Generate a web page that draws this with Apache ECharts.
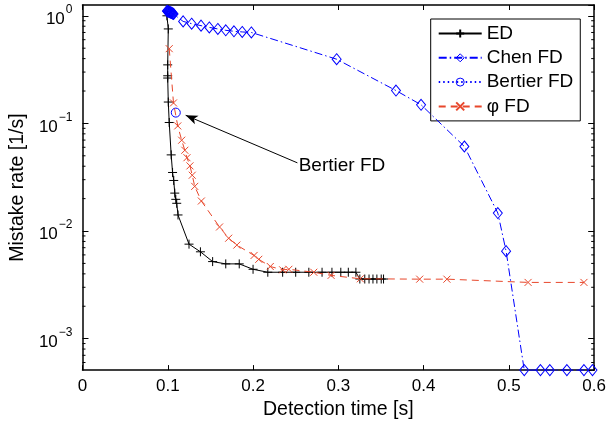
<!DOCTYPE html>
<html><head><meta charset="utf-8">
<script src="https://cdn.jsdelivr.net/npm/echarts@6/dist/echarts.min.js"></script>
<style>html,body{margin:0;padding:0;background:#fff}#c{width:609px;height:425px}</style>
</head><body><div id="c"></div>
<script>
// ---- data ----
const edTime = [0.0990, 0.1006, 0.0999, 0.0999, 0.0999, 0.1006, 0.1017, 0.1040, 0.1056, 0.1070, 0.1082, 0.1094, 0.1105, 0.1120, 0.1249, 0.1383, 0.1526, 0.1680, 0.1838, 0.2000, 0.2173, 0.2347, 0.2500, 0.2654, 0.2809, 0.2925, 0.3029, 0.3117, 0.3206, 0.3252, 0.3310, 0.3360, 0.3406, 0.3452, 0.3503, 0.3530];
const edRate = [1.0, 0.755, 0.35, 0.277, 0.264, 0.158, 0.102, 0.051, 0.035, 0.0295, 0.0225, 0.0197, 0.0181, 0.0141, 0.00755, 0.00641, 0.0052, 0.00495, 0.00495, 0.00441, 0.00414, 0.00414, 0.00414, 0.00414, 0.00414, 0.00414, 0.00414, 0.00414, 0.00414, 0.00358, 0.00358, 0.00358, 0.00358, 0.00358, 0.00358, 0.00358];

const chenTime = [0.0990, 0.0996, 0.1002, 0.1008, 0.1014, 0.1020, 0.1026, 0.1032, 0.1038, 0.1044, 0.1050, 0.1056, 0.1062, 0.1068, 0.1180, 0.1280, 0.1390, 0.1487, 0.1587, 0.1680, 0.1776, 0.1873, 0.1980, 0.2980, 0.3676, 0.3970, 0.4478, 0.4870, 0.4967, 0.5180, 0.5370, 0.5480, 0.5680, 0.5880, 0.5980];
const chenRate = [1.11, 1.105, 1.10, 1.095, 1.09, 1.085, 1.08, 1.075, 1.07, 1.065, 1.06, 1.05, 1.045, 1.04, 0.887, 0.845, 0.81, 0.78, 0.755, 0.733, 0.718, 0.708, 0.70, 0.395, 0.202, 0.149, 0.061, 0.0147, 0.0065, 0.00051, 0.00051, 0.00051, 0.00051, 0.00051, 0.00051];

const bertierTime = [0.1094];
const bertierRate = [0.126];

const phiTime = [0.1017, 0.1067, 0.1117, 0.1163, 0.1200, 0.1225, 0.1260, 0.1287, 0.1316, 0.1394, 0.1607, 0.1714, 0.1810, 0.2012, 0.2067, 0.2202, 0.2347, 0.2420, 0.2712, 0.2915, 0.3258, 0.3954, 0.4273, 0.5225, 0.5880];
const phiRate = [0.495, 0.155, 0.0948, 0.0698, 0.0563, 0.048, 0.0403, 0.033, 0.026, 0.019, 0.0109, 0.00857, 0.0074, 0.00593, 0.00546, 0.00468, 0.00436, 0.00441, 0.00414, 0.00387, 0.0036, 0.00357, 0.00357, 0.00333, 0.00333];

const seriesNames = ['ED', 'Chen FD', 'Bertier FD', '\u03C6 FD'];
const xTickLabels = ['0', '0.1', '0.2', '0.3', '0.4', '0.5', '0.6'];
const yTickExponents = ['0', '\u22121', '\u22122', '\u22123'];
const yMinorTicks = [6e-4, 7e-4, 8e-4, 9e-4, 2e-3, 3e-3, 4e-3, 5e-3, 6e-3, 7e-3, 8e-3, 9e-3, 2e-2, 3e-2, 4e-2, 5e-2, 6e-2, 7e-2, 8e-2, 9e-2, 0.2, 0.3, 0.4, 0.5, 0.6, 0.7, 0.8, 0.9];
const annotationText = 'Bertier FD';
const annotationTextAt = [0.2535, 0.0403];
const arrowFrom = [0.252, 0.043];
const arrowTo = [0.121, 0.119];

// ---- chart ----
const zip = (a, b) => a.map((v, i) => [v, b[i]]);
const FONT = '"Liberation Sans", Arial, Helvetica, sans-serif';
const PLUS = 'path://M0,5L10,5M5,0L5,10';
const CROSS = 'path://M0,0L10,10M0,10L10,0';
const BLUE = '#0000ff', RED = '#e8472b';
const YMIN = 5.1e-4, YMAX = 1.26;
const HOLLOW = 'rgba(255,255,255,0)';

const chart = echarts.init(document.getElementById('c'), null, {renderer: 'canvas'});

const axisLineStyle = {color: '#000', width: 1.5};
const option = {
  animation: false,
  backgroundColor: '#fff',
  textStyle: {fontFamily: FONT},
  grid: {left: 78.7, right: 11.3, top: 5, bottom: 50, containLabel: false},
  legend: {
    data: [
      {name: seriesNames[0]},
      {name: seriesNames[1], itemStyle: {color: HOLLOW, borderColor: BLUE, borderWidth: 1}},
      {name: seriesNames[2], itemStyle: {color: HOLLOW, borderColor: BLUE, borderWidth: 1}},
      {name: seriesNames[3]}
    ],
    orient: 'vertical',
    left: 430.7, top: 19,
    padding: [5, 7, 5, 7],
    itemWidth: 43, itemHeight: 10, itemGap: 5.3,
    backgroundColor: '#fff', borderColor: '#000', borderWidth: 1, borderRadius: 0,
    textStyle: {fontSize: 19, color: '#000', fontFamily: FONT},
    selectedMode: false
  },
  xAxis: [{
    type: 'value', min: 0, max: 0.6, interval: 0.1, position: 'bottom',
    axisLine: {onZero: false, lineStyle: axisLineStyle},
    axisTick: {inside: true, length: 5, lineStyle: {color: '#000'}},
    axisLabel: {color: '#000', fontSize: 17, margin: 8, fontFamily: FONT,
      formatter: v => xTickLabels[Math.round(v * 10)]},
    splitLine: {show: false},
    name: 'Detection time [s]', nameLocation: 'middle', nameGap: 26,
    nameTextStyle: {color: '#000', fontSize: 19.5, fontFamily: FONT}
  }, {
    type: 'value', min: 0, max: 0.6, interval: 0.1, position: 'top',
    axisLine: {onZero: false, lineStyle: axisLineStyle},
    axisTick: {inside: true, length: 5, lineStyle: {color: '#000'}},
    axisLabel: {show: false}, splitLine: {show: false}
  }],
  yAxis: [{
    type: 'log', logBase: 10, min: YMIN, max: YMAX, position: 'left',
    axisLine: {onZero: false, lineStyle: axisLineStyle},
    axisTick: {inside: true, length: 6, lineStyle: {color: '#000'}},
    axisLabel: {
      color: '#000', margin: 10, showMinLabel: false, showMaxLabel: false,
      formatter: v => {
        const e = Math.log10(v), r = Math.round(e);
        if (Math.abs(e - r) > 0.01 || r > 0 || r < -3) return '';
        return '{b|10}{s|' + yTickExponents[-r] + '}';
      },
      rich: {
        b: {fontSize: 17, fontFamily: FONT, color: '#000', lineHeight: 24, verticalAlign: 'bottom'},
        s: {fontSize: 12, fontFamily: FONT, color: '#000', lineHeight: 24, verticalAlign: 'top', padding: [0, 0, 0, 1]}
      }
    },
    splitLine: {show: false},
    name: 'Mistake rate [1/s]', nameLocation: 'middle', nameGap: 49,
    nameTextStyle: {color: '#000', fontSize: 19.5, fontFamily: FONT}
  }, {
    type: 'log', logBase: 10, min: YMIN, max: YMAX, position: 'right',
    axisLine: {onZero: false, lineStyle: axisLineStyle},
    axisTick: {inside: true, length: 6, lineStyle: {color: '#000'}},
    axisLabel: {show: false}, splitLine: {show: false}
  }],
  series: [
    {
      name: seriesNames[0], type: 'line', data: zip(edTime, edRate),
      symbol: PLUS, symbolSize: 9, showAllSymbol: true, clip: false,
      lineStyle: {color: '#000', width: 1},
      itemStyle: {color: '#000', borderColor: '#000', borderWidth: 1},
      z: 3
    },
    {
      name: seriesNames[1], type: 'line', data: zip(chenTime, chenRate),
      symbol: 'diamond', symbolSize: [9, 11], showAllSymbol: true, clip: false,
      lineStyle: {color: BLUE, width: 1, type: [8, 3, 1.5, 3]},
      itemStyle: {color: HOLLOW, borderColor: BLUE, borderWidth: 1},
      z: 4
    },
    {
      name: seriesNames[2], type: 'line', data: zip(bertierTime, bertierRate),
      symbol: 'circle', symbolSize: 9, showAllSymbol: true, clip: false,
      lineStyle: {color: BLUE, width: 1, type: [1.5, 3]},
      itemStyle: {color: HOLLOW, borderColor: BLUE, borderWidth: 1},
      z: 5,
      markLine: {
        silent: true, symbol: ['none', 'arrow'], symbolSize: [7, 12],
        lineStyle: {color: '#000', width: 1, type: 'solid'},
        label: {show: false},
        data: [[{coord: arrowFrom}, {coord: arrowTo}]]
      },
      markPoint: {
        silent: true, symbol: 'circle', symbolSize: 0,
        label: {show: true, position: 'right', distance: 0, formatter: annotationText,
          color: '#000', fontSize: 19, fontFamily: FONT},
        data: [{coord: annotationTextAt}]
      }
    },
    {
      name: seriesNames[3], type: 'line', data: zip(phiTime, phiRate),
      symbol: CROSS, symbolSize: 7, showAllSymbol: true, clip: false,
      lineStyle: {color: RED, width: 1, type: [7, 5]},
      itemStyle: {color: RED, borderColor: RED, borderWidth: 1},
      z: 6
    },
    {
      type: 'custom', silent: true, xAxisIndex: 0, yAxisIndex: 0, clip: false,
      data: yMinorTicks.map(v => [0, v]),
      renderItem: (params, api) => {
        const v = api.value(1);
        const p = api.coord([0, v]);
        const q = api.coord([0.6, v]);
        return {type: 'group', children: [
          {type: 'line', shape: {x1: p[0], y1: p[1], x2: p[0] + 3, y2: p[1]}, style: {stroke: '#000', lineWidth: 1}},
          {type: 'line', shape: {x1: q[0] - 3, y1: q[1], x2: q[0], y2: q[1]}, style: {stroke: '#000', lineWidth: 1}}
        ]};
      },
      z: 1
    }
  ]
};
chart.setOption(option);
</script>
</body></html>
